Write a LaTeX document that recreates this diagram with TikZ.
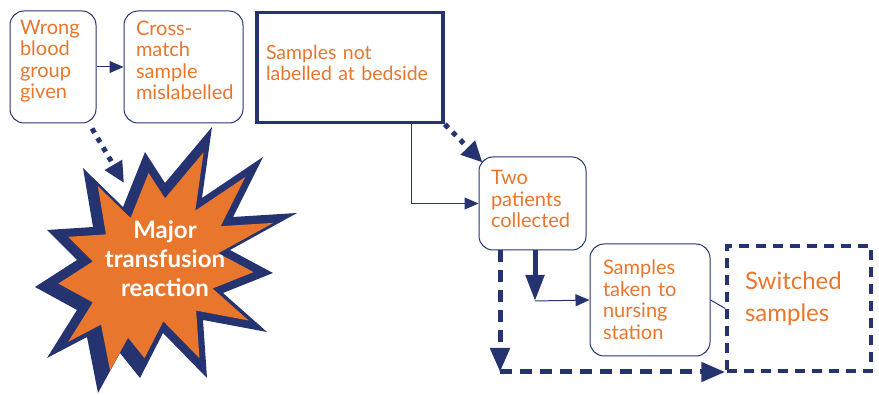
\documentclass[tikz,border=0pt]{standalone}
\usepackage{fontspec}
\setmainfont{Lato}
\usetikzlibrary{arrows.meta}
\definecolor{navy}{RGB}{37,52,113}
\definecolor{flame}{RGB}{232,118,45}
\tikzstyle{arrow} = [navy,line width=1pt,-{Triangle[length=14pt,width=12pt]}]
\tikzstyle{heavyarrow} = [navy,line width=5pt,-{Triangle[length=26pt,width=18pt]}]
\tikzstyle{dotarrow} = [navy,line width=5pt,dash pattern=on 5pt off 6pt,-{Triangle[length=21pt,width=19pt]}]
\tikzstyle{dasharrow} = [navy,line width=5pt,dash pattern=on 12pt off 8pt,-{Triangle[length=24pt,width=19pt]}]
\newcommand\burstpath{(212,127) -- (202,198) -- (263,157) -- (233,217) -- (297,213) -- (230,250) -- (273,273) -- (223,293) -- (267,332) -- (203,320) -- (207,378) -- (163,333) -- (140,378) -- (120,353) -- (98,393) -- (87,337) -- (47,358) -- (77,310) -- (35,287) -- (77,260) -- (47,230) -- (93,227) -- (83,168) -- (123,207) -- (145,152) -- (165,183) -- cycle}

\begin{document}
\begin{tikzpicture}[
            x=1pt, y=-1pt,
            box/.style={draw=navy, line width=1pt, rounded corners=14pt, text=flame, align=left,
                font=\fontsize{20}{21.5}\selectfont, inner ysep=0pt},
            sharpbox/.style={draw=navy, text=flame, align=left, inner ysep=0pt}
        ]
            \useasboundingbox (0,0) rectangle (879,395);

            % the burst
            \fill[navy] \burstpath;
            \fill[flame, shift={(165,268)}, scale=0.82, shift={(-165,-268)}] \burstpath;
            \node[text=white, align=center, font=\bfseries\fontsize{24}{29}\selectfont] (reaction) at (165,259) {Major\\transfusion\\reaction};

            \node[box, minimum width=86pt, minimum height=112pt, text width=66pt, inner xsep=10pt, text depth=79.5pt] (wrong) at (53,67) {Wrong\\blood\\group\\given};
            \node[box, minimum width=119pt, minimum height=112pt, text width=95pt, inner xsep=12pt, text depth=78pt] (cross) at (183.5,67) {Cross-\\match\\sample\\mislabelled};
            \node[sharpbox, line width=3.5pt, minimum width=186pt, minimum height=110pt, text width=168pt, inner xsep=9pt,
                text depth=31pt, font=\fontsize{19.5}{21.5}\selectfont] (bedside) at (350,67.5) {Samples not\\labelled at bedside};
            \node[box, minimum width=107pt, minimum height=93pt, text width=83pt, inner xsep=12pt, text depth=52pt] (two) at (532.5,203.5) {Two\\patients\\collected};
            \node[box, minimum width=120pt, minimum height=112pt, text width=94pt, inner xsep=13pt, text depth=65pt] (taken) at (650,300) {Samples\\taken to\\nursing\\station};
            \node[sharpbox, line width=3.5pt, dash pattern=on 10pt off 7pt, minimum width=144pt, minimum height=125pt,
                text width=108pt, inner xsep=18pt, text depth=55pt, font=\fontsize{24}{32}\selectfont] (switched) at (799,308.5) {Switched\\samples};

            \coordinate (hit) at (124,183);
            \coordinate (bend) at (535,301);
            \coordinate (corner) at (500,372);

            \draw[arrow] (wrong) -- (cross);
            \draw[dotarrow] ([shift={(39pt,-5pt)}]wrong.south) -- (hit);
            \draw[dotarrow] (bedside.south east) -- ([shift={(4pt,-6pt)}]two.north west);
            \draw[arrow] ([xshift=61pt]bedside.south) |- (two.west);
            \draw[heavyarrow] (two.south -| bend) -- (bend);
            \draw[arrow] (bend) -- (taken.west);
            \draw[navy, line width=1pt] (taken.east) -- (switched.west);
            \draw[dasharrow] (two.south -| corner) -- (corner);
            \draw[dasharrow] (corner) -- (corner -| switched.west);
        \end{tikzpicture}
\end{document}
